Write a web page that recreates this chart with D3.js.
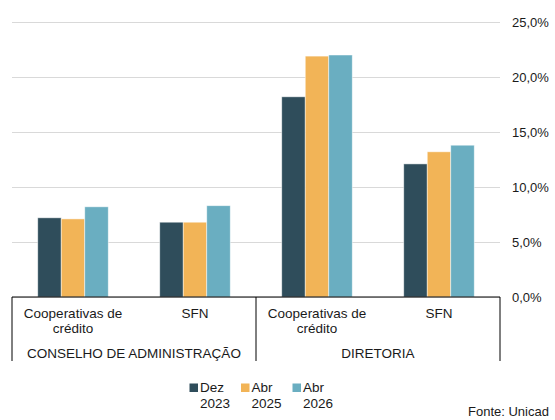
<!DOCTYPE html>
<html>
<head>
<meta charset="utf-8">
<script src="https://cdn.jsdelivr.net/npm/d3@7"></script>
<style>
  html, body { margin: 0; padding: 0; background: #fff; }
  svg { display: block; font-family: "Liberation Sans", Arial, sans-serif; }
</style>
</head>
<body>
<svg id="chart" width="555" height="420"></svg>
<script>
// Board composition share, by segment and date
const groups = ["CONSELHO DE ADMINISTRAÇÃO", "DIRETORIA"];
const categories = [
  ["Cooperativas de", "crédito"], ["SFN"],
  ["Cooperativas de", "crédito"], ["SFN"]
];
const seriesNames = [["Dez", "2023"], ["Abr", "2025"], ["Abr", "2026"]];
const seriesColors = ["#2f4d5b", "#f2b457", "#6aaec1"];
const dez2023 = [7.2, 6.8, 18.2, 12.1];
const abr2025 = [7.1, 6.8, 21.9, 13.2];
const abr2026 = [8.2, 8.3, 22.0, 13.8];
const yTicks = [0, 5, 10, 15, 20, 25];
const source = "Fonte: Unicad";

const series = [dez2023, abr2025, abr2026];
const svg = d3.select("#chart");

const plotLeft = 12, plotRight = 500, plotTop = 22, plotBottom = 297;
const labelSize = "13.5px";

const x = d3.scaleBand().domain(d3.range(categories.length))
  .range([plotLeft, plotRight]).paddingInner(0.422).paddingOuter(0.211);
const xs = d3.scaleBand().domain(d3.range(series.length))
  .range([0, x.bandwidth()]).padding(0);
const y = d3.scaleLinear().domain([0, 25]).range([plotBottom, plotTop]);

const fmt = v => d3.format(".1f")(v).replace(".", ",") + "%";

// gridlines + right-side tick labels
const yAxis = d3.axisRight(y).tickValues(yTicks).tickSize(plotRight - plotLeft).tickFormat(fmt);
const gy = svg.append("g").attr("transform", `translate(${plotLeft},0)`).call(yAxis);
gy.select(".domain").remove();
gy.selectAll(".tick line").attr("stroke", "#d9d9d9").attr("stroke-width", 1);
gy.selectAll(".tick text")
  .attr("x", 512 - plotLeft).attr("dy", "0.35em")
  .attr("fill", "#1a1a1a").style("font-size", "13px").style("font-family", "Liberation Sans, Arial, sans-serif");

// bars
categories.forEach((c, i) => {
  const g = svg.append("g").attr("transform", `translate(${x(i)},0)`);
  series.forEach((s, j) => {
    g.append("rect")
      .attr("x", xs(j)).attr("width", xs.bandwidth())
      .attr("y", y(s[i])).attr("height", y(0) - y(s[i]))
      .attr("fill", seriesColors[j])
      .attr("stroke", "#ffffff").attr("stroke-opacity", 0.6).attr("stroke-width", 0.8);
  });
});

// category axis with group dividers
svg.append("line").attr("x1", plotLeft).attr("x2", plotRight).attr("y1", y(0)).attr("y2", y(0))
  .attr("stroke", "#000").attr("stroke-width", 1);
const dividerX = [plotLeft, (plotLeft + plotRight) / 2, plotRight];
dividerX.forEach(dx => {
  svg.append("line").attr("x1", dx).attr("x2", dx).attr("y1", y(0)).attr("y2", 361)
    .attr("stroke", "#000").attr("stroke-width", 1);
});

categories.forEach((c, i) => {
  const cx = x(i) + x.bandwidth() / 2;
  c.forEach((line, k) => {
    svg.append("text").attr("x", cx).attr("y", 318 + k * 15)
      .attr("text-anchor", "middle").attr("fill", "#1a1a1a")
      .style("font-size", labelSize).text(line);
  });
});

groups.forEach((gname, i) => {
  svg.append("text").attr("x", (dividerX[i] + dividerX[i + 1]) / 2).attr("y", 358)
    .attr("text-anchor", "middle").attr("fill", "#1a1a1a")
    .style("font-size", labelSize).text(gname);
});

// legend
const legendX = [189.5, 241, 292.5];
seriesNames.forEach((nm, j) => {
  const lg = svg.append("g").attr("transform", `translate(${legendX[j]},0)`);
  lg.append("rect").attr("x", 0).attr("y", 383.5).attr("width", 8.5).attr("height", 8.5)
    .attr("fill", seriesColors[j]);
  nm.forEach((t, k) => {
    lg.append("text").attr("x", 10.5).attr("y", 392 + k * 15.5)
      .attr("fill", "#1a1a1a").style("font-size", labelSize).text(t);
  });
});

svg.append("text").attr("x", 468).attr("y", 416)
  .attr("fill", "#1a1a1a").style("font-size", "13px").text(source);
</script>
</body>
</html>
